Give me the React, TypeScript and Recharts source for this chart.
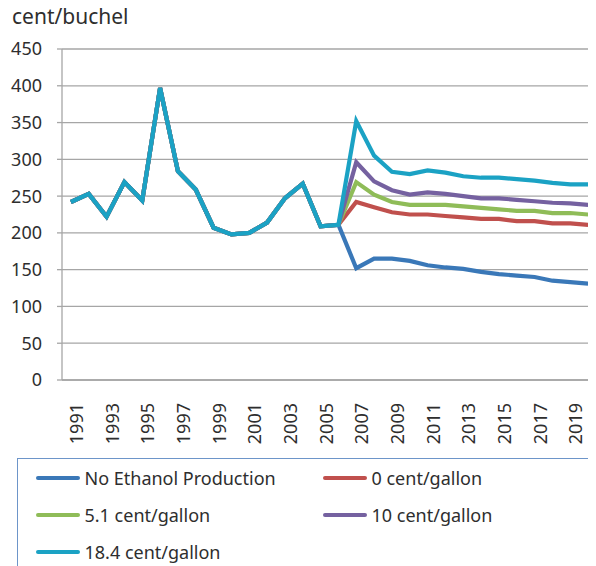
import React from 'react';
import { LineChart, Line, XAxis, YAxis, CartesianGrid, Legend } from 'recharts';

const years = [1991, 1992, 1993, 1994, 1995, 1996, 1997, 1998, 1999, 2000, 2001, 2002, 2003, 2004, 2005, 2006, 2007, 2008, 2009, 2010, 2011, 2012, 2013, 2014, 2015, 2016, 2017, 2018, 2019, 2020];
const labelYears = [1991, 1993, 1995, 1997, 1999, 2001, 2003, 2005, 2007, 2009, 2011, 2013, 2015, 2017, 2019];
const yTicks = [0, 50, 100, 150, 200, 250, 300, 350, 400, 450];

// 1991-2006 observed prices (shared by all scenarios)
const history = [242, 253, 222, 269, 244, 397, 284, 259, 207, 198, 200, 214, 247, 267, 209, 211];
// 2007-2020 projections
const noEthanolProj = [152, 165, 165, 162, 156, 153, 151, 147, 144, 142, 140, 135, 133, 131];
const cent0Proj = [242, 235, 228, 225, 225, 223, 221, 219, 219, 216, 216, 213, 213, 211];
const cent51Proj = [269, 252, 242, 238, 238, 238, 236, 234, 232, 230, 230, 227, 227, 225];
const cent10Proj = [296, 270, 258, 252, 255, 253, 250, 247, 247, 245, 243, 241, 240, 238];
const cent184Proj = [352, 305, 283, 280, 285, 282, 277, 275, 275, 273, 271, 268, 266, 266];

const series = [
  { key: 'noEthanol', name: 'No Ethanol Production', color: '#3a78b8', values: [...history, ...noEthanolProj] },
  { key: 'c0', name: '0 cent/gallon', color: '#c0504d', values: [...history, ...cent0Proj] },
  { key: 'c51', name: '5.1 cent/gallon', color: '#8fbc58', values: [...history, ...cent51Proj] },
  { key: 'c10', name: '10 cent/gallon', color: '#7561a0', values: [...history, ...cent10Proj] },
  { key: 'c184', name: '18.4 cent/gallon', color: '#1ba2c4', values: [...history, ...cent184Proj] },
];

const rows = years.map((year, i) => {
  const r: any = { year };
  series.forEach((s) => { r[s.key] = s.values[i]; });
  return r;
});

const boundaries = [...years.map((y) => y - 0.5), years[years.length - 1] + 0.5];
const xDomain = [years[0] - 0.5, years[years.length - 1] + 0.5];

const TEXT = '#2e2e2e';
const GRID = '#a6a6a6';

const YearTick = (props: any) => {
  const { x, y, payload } = props;
  const ax = x + 12;
  const ay = y + 22;
  return (
    <text x={ax} y={ay} transform={`rotate(-90 ${ax} ${ay})`} textAnchor="end" fontSize={18} fill={TEXT}>
      {payload.value}
    </text>
  );
};

const LegendBox = () => (
  <div style={{ border: '1.5px solid #6d95c9', height: 120, boxSizing: 'border-box', paddingLeft: 17.5, display: 'grid', gridTemplateColumns: '287px 1fr', gridAutoRows: '37px', alignItems: 'center' }}>
    {series.map((s) => (
      <div key={s.key} style={{ display: 'flex', alignItems: 'center' }}>
        <span style={{ display: 'inline-block', width: 44, height: 4, borderRadius: 2, background: s.color, marginRight: 5 }} />
        <span style={{ fontSize: 18, color: TEXT }}>{s.name}</span>
      </div>
    ))}
  </div>
);

const renderTitle = () => (
  <text x={12} y={24} fontSize={21} fill={TEXT}>cent/buchel</text>
);

export default function App() {
  return (
    <div style={{ margin: '-8px 0 0 -8px', width: 610, height: 566, position: 'relative', fontFamily: '"Noto Sans", sans-serif' }}>
      <LineChart width={610} height={566} data={rows} margin={{ top: 49, right: 13, bottom: 125, left: 0 }}>
        <CartesianGrid xAxisId="grid" horizontal vertical={false} stroke={GRID} strokeWidth={1.3} />
        <XAxis
          xAxisId="grid"
          dataKey="year"
          type="number"
          domain={xDomain}
          ticks={boundaries}
          interval={0}
          tick={false}
          tickSize={6}
          height={1}
          axisLine={{ stroke: GRID, strokeWidth: 1.3 }}
          tickLine={{ stroke: GRID, strokeWidth: 1.3 }}
        />
        <XAxis
          xAxisId="labels"
          dataKey="year"
          type="number"
          domain={xDomain}
          ticks={labelYears}
          interval={0}
          axisLine={false}
          tickLine={false}
          tickSize={0}
          tickMargin={0}
          height={60}
          tick={<YearTick />}
        />
        <YAxis
          domain={[0, 450]}
          ticks={yTicks}
          interval={0}
          width={62}
          tickSize={5}
          tickMargin={15}
          axisLine={{ stroke: GRID, strokeWidth: 1.3 }}
          tickLine={{ stroke: GRID, strokeWidth: 1.3 }}
          tick={{ fill: TEXT, fontSize: 18 }}
          label={{ value: 'cent/buchel', content: renderTitle }}
        />
        {series.map((s) => (
          <Line
            key={s.key}
            xAxisId="grid"
            dataKey={s.key}
            name={s.name}
            stroke={s.color}
            strokeWidth={4.2}
            dot={false}
            activeDot={false}
            isAnimationActive={false}
          />
        ))}
        <Legend
          content={<LegendBox />}
          layout="horizontal"
          verticalAlign="middle"
          align="center"
          wrapperStyle={{ left: 17, top: 458, width: 575, height: 120 }}
        />
      </LineChart>
    </div>
  );
}
